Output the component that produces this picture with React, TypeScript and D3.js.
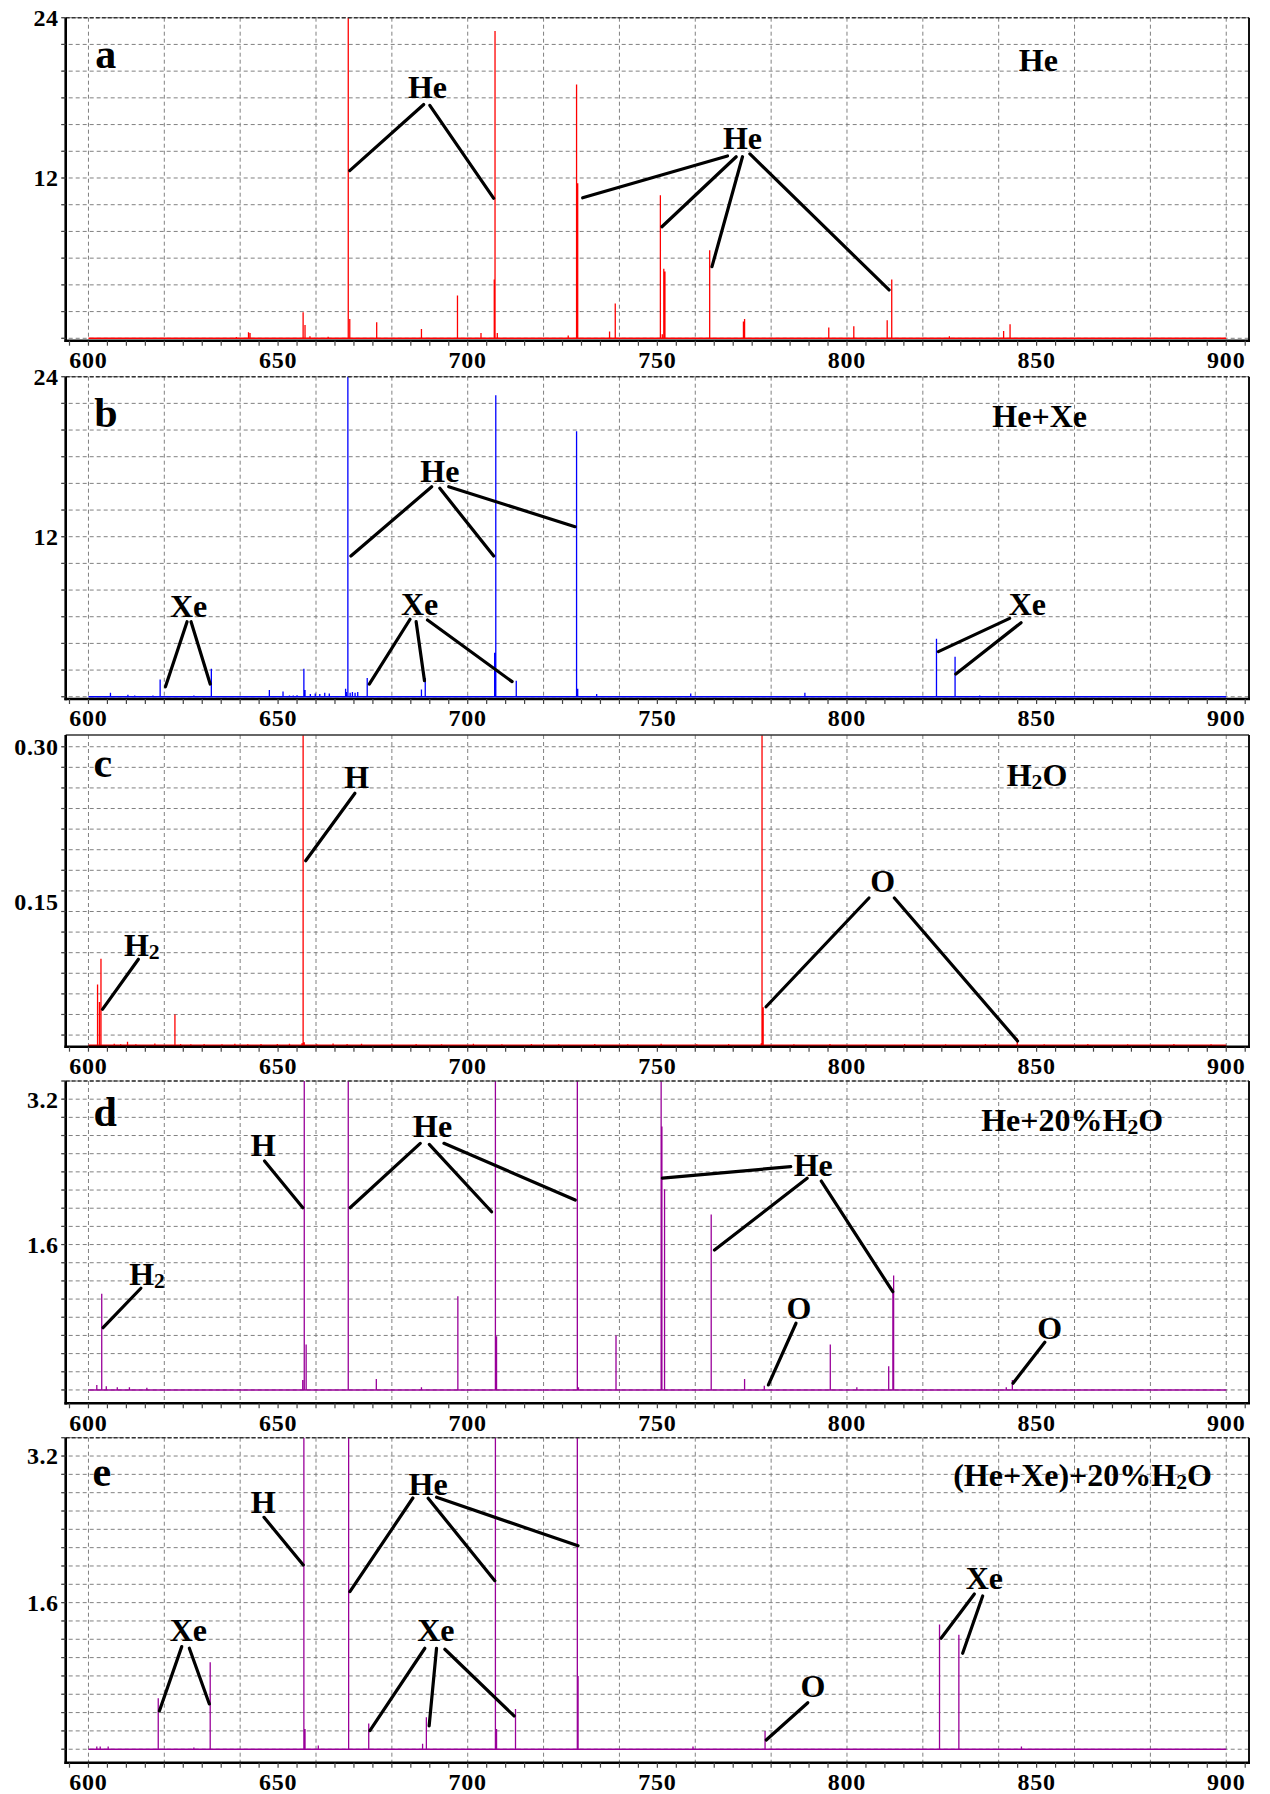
import React from 'react';
import * as d3 from 'd3';

type Peak = [number, number];
type Seg = [number, number, number, number];
interface Ann { text: string; at: [number, number]; lines: Seg[] }

// ---------- shared axis values ----------
const xDomain: [number, number] = [594, 906];
const xTickLabels = [600, 650, 700, 750, 800, 850, 900];
const xGridValues = d3.range(600, 901, 20);
const xMinorTicks = d3.range(595, 906, 5);

// ---------- y tick labels ----------
const yTicksA = [24, 12];
const yTicksB = [24, 12];
const yTicksC = [0.3, 0.15];
const yTicksD = [3.2, 1.6];
const yTicksE = [3.2, 1.6];

// ---------- spectra: [wavelength nm, intensity] ----------
const peaksA: Peak[] = [
  [639.0, 0.1], [642.2, 0.45], [642.6, 0.4], [656.6, 1.95], [657.1, 1.0], [658.4, 0.15], [663.2, 0.12],
  [668.5, 26], [668.9, 1.45], [676.0, 1.2], [687.8, 0.7], [697.3, 3.2], [703.5, 0.4], [707.0, 4.4],
  [707.2, 23.0], [707.8, 0.4], [726.5, 0.2], [728.7, 19.0], [729.0, 11.6], [737.4, 0.5], [738.9, 2.6],
  [750.8, 10.7], [751.3, 0.3], [751.7, 5.2], [752.0, 5.0], [763.8, 6.6], [772.7, 1.25], [773.0, 1.45],
  [795.2, 0.8], [801.8, 0.9], [810.6, 1.35], [811.8, 4.4], [827.0, 0.15], [841.3, 0.55], [843.0, 1.05],
];
const peaksB: Peak[] = [
  [605.8, 0.3], [610.4, 0.15], [612.2, 0.1], [617.0, 0.1], [618.9, 1.3], [627.8, 0.1], [632.4, 2.1],
  [647.7, 0.5], [651.3, 0.4], [653.0, 0.1], [654.0, 0.1], [655.0, 0.12], [656.8, 2.1], [657.1, 0.5],
  [658.5, 0.2], [659.8, 0.25], [661.0, 0.2], [662.3, 0.3], [663.5, 0.25], [667.8, 0.6], [668.0, 0.35],
  [668.4, 26], [669.0, 0.3], [669.6, 0.35], [670.3, 0.3], [671.0, 0.35], [673.5, 1.4], [687.8, 0.55],
  [688.8, 1.4], [707.1, 3.3], [707.4, 22.6], [712.8, 1.2], [728.7, 19.9], [729.0, 0.6], [734.0, 0.2],
  [758.8, 0.25], [788.9, 0.3], [823.6, 4.35], [828.5, 3.0], [835.0, 0.1],
];
const peaksC: Peak[] = [
  [602.4, 0.069], [602.9, 0.052], [603.3, 0.094], [610.3, 0.0136], [622.8, 0.04], [656.3, 0.012],
  [656.6, 0.4], [656.9, 0.013], [777.4, 0.012], [777.6, 0.4], [777.9, 0.047], [844.9, 0.017],
];
const noiseC: Peak[] = [
  [606.8, 0.0115], [608.5, 0.011], [612.5, 0.0112], [617.5, 0.0118], [624.3, 0.0114], [627.0, 0.0112],
  [630.5, 0.0113], [635.2, 0.011], [638.6, 0.0115], [642.0, 0.0112], [645.5, 0.0114], [649.8, 0.0113],
  [653.0, 0.0116], [660.2, 0.0112], [664.5, 0.0118], [668.2, 0.0113], [672.0, 0.0115], [680.0, 0.0112],
  [686.4, 0.0114], [693.1, 0.0111], [701.5, 0.0115], [709.0, 0.0112], [716.8, 0.0113], [724.0, 0.0111],
  [733.5, 0.0114], [742.2, 0.0112], [751.0, 0.0115], [760.4, 0.0111], [768.8, 0.0113], [786.0, 0.0112],
  [795.5, 0.0114], [805.0, 0.0111], [815.2, 0.0113], [826.0, 0.0112], [836.5, 0.0114], [852.0, 0.0111],
  [863.5, 0.0113], [874.0, 0.0112], [886.2, 0.0113], [896.0, 0.0111],
];
const peaksD: Peak[] = [
  [602.2, 0.055], [603.5, 1.06], [604.7, 0.04], [607.6, 0.03], [610.8, 0.03], [615.4, 0.025],
  [656.5, 0.11], [656.9, 4.0], [657.4, 0.5], [668.5, 4.0], [675.9, 0.12], [687.8, 0.03], [697.4, 1.03],
  [707.3, 4.0], [707.6, 0.59], [728.9, 4.0], [729.2, 0.03], [739.1, 0.6], [751.0, 4.0], [751.2, 2.9],
  [751.9, 2.21], [764.2, 1.93], [773.0, 0.12], [778.2, 0.045], [795.6, 0.5], [802.6, 0.03], [811.0, 0.26],
  [812.1, 1.07], [812.3, 1.26], [842.0, 0.03], [843.6, 0.11],
];
const peaksE: Peak[] = [
  [602.2, 0.03], [603.1, 0.03], [605.2, 0.03], [618.4, 0.556], [627.8, 0.02], [632.1, 0.95],
  [656.8, 4.0], [657.1, 0.22], [660.6, 0.04], [668.6, 4.0], [673.9, 0.28], [688.1, 0.06], [689.1, 0.35],
  [707.3, 4.0], [707.6, 0.22], [712.6, 0.44], [728.9, 4.0], [729.1, 0.8], [759.4, 0.03], [778.4, 0.2],
  [824.4, 1.36], [829.5, 1.25], [846.0, 0.03],
];

// ---------- annotations (data coordinates) ----------
const annA: Ann[] = [
  { text: 'He', at: [689.4, 18.8], lines: [[688.4, 17.5, 668.9, 12.55], [690.0, 17.44, 706.85, 10.48]] },
  { text: 'He', at: [772.45, 14.97], lines: [[768.5, 13.65, 730.3, 10.52], [770.8, 13.59, 751.2, 8.35], [772.45, 13.59, 764.4, 5.36], [774.4, 13.8, 811.1, 3.62]] },
];
const annB: Ann[] = [
  { text: 'He', at: [692.65, 16.88], lines: [[690.5, 15.75, 669.2, 10.55], [692.65, 15.63, 706.85, 10.55], [695.0, 15.75, 728.3, 12.75]] },
  { text: 'Xe', at: [626.4, 6.8], lines: [[626.0, 5.63, 620.3, 0.75], [627.05, 5.63, 632.1, 0.95]] },
  { text: 'Xe', at: [687.3, 6.93], lines: [[684.8, 5.81, 674.05, 0.95], [686.4, 5.63, 688.6, 1.2], [689.4, 5.75, 711.7, 1.13]] },
  { text: 'Xe', at: [847.55, 6.93], lines: [[842.9, 5.88, 824.1, 3.38], [845.9, 5.55, 828.7, 1.7]] },
];
const annC: Ann[] = [
  { text: 'H', at: [670.7, 0.2703], lines: [[670.26, 0.2548, 657.27, 0.1893]] },
  { text: 'H_2', at: [614.07, 0.1075], lines: [[613.17, 0.0936, 603.69, 0.045]] },
  { text: 'O', at: [809.4, 0.1696], lines: [[805.8, 0.1531, 778.66, 0.0475], [812.5, 0.1531, 844.97, 0.0143]] },
];
const annD: Ann[] = [
  { text: 'H', at: [646.1, 2.695], lines: [[646.42, 2.519, 656.53, 2.005]] },
  { text: 'He', at: [690.73, 2.897], lines: [[687.49, 2.714, 668.99, 2.005], [689.86, 2.703, 706.3, 1.961], [693.73, 2.714, 728.35, 2.09]] },
  { text: 'H_2', at: [615.44, 1.273], lines: [[613.83, 1.119, 603.85, 0.685]] },
  { text: 'He', at: [791.1, 2.475], lines: [[785.17, 2.457, 751.32, 2.332], [789.49, 2.329, 765.07, 1.54], [793.23, 2.299, 812.07, 1.081]] },
  { text: 'O', at: [787.33, 0.899], lines: [[786.56, 0.734, 779.27, 0.055]] },
  { text: 'O', at: [853.45, 0.679], lines: [[852.16, 0.525, 843.78, 0.074]] },
];
const annE: Ann[] = [
  { text: 'H', at: [646.1, 2.691], lines: [[646.29, 2.531, 656.64, 2.011]] },
  { text: 'He', at: [689.57, 2.891], lines: [[685.54, 2.742, 668.94, 1.72], [689.57, 2.739, 707.14, 1.84], [691.78, 2.75, 729.08, 2.22]] },
  { text: 'Xe', at: [626.34, 1.294], lines: [[624.6, 1.12, 618.7, 0.418], [626.6, 1.102, 631.88, 0.494]] },
  { text: 'Xe', at: [691.6, 1.294], lines: [[688.7, 1.102, 674.21, 0.203], [691.78, 1.102, 689.83, 0.254], [693.97, 1.091, 712.22, 0.363]] },
  { text: 'O', at: [791.0, 0.683], lines: [[789.67, 0.508, 778.71, 0.101]] },
  { text: 'Xe', at: [836.22, 1.866], lines: [[833.59, 1.694, 824.81, 1.211], [835.78, 1.673, 830.5, 1.047]] },
];

const titles = ['He', 'He+Xe', 'H_2O', 'He+20%H_2O', '(He+Xe)+20%H_2O'];
const titleAt: [number, number][] = [[850.45, 20.83], [850.8, 21.0], [850.1, 0.2718], [859.38, 2.97], [862.12, 2.993]];
const letters = ['a', 'b', 'c', 'd', 'e'];
const letterAt: [number, number][] = [[601.76, 20.26], [601.5, 20.26], [601.3, 0.2703], [601.3, 2.908], [601.05, 2.873]];

// ---------- layout / style ----------
const LEFT = 65.7;
const RIGHT = 1249;
const FONT = "'Liberation Serif', 'Times New Roman', serif";
const RED = '#ff0000';
const BLUE = '#0000ff';
const PURPLE = '#990099';

interface PanelCfg {
  top: number; bottom: number; yMin: number; yMax: number;
  gridStart: number; gridStep: number; yTicks: number[]; fmt: (v: number) => string;
  color: string; peaks: Peak[]; noise: Peak[]; base: number; baseWidth: number; anns: Ann[]; topDashed: boolean;
}

const panels: PanelCfg[] = [
  { top: 17.7, bottom: 340.7, yMin: -0.18, yMax: 24, gridStart: 0, gridStep: 2, yTicks: yTicksA, fmt: d3.format('d'), color: RED, peaks: peaksA, noise: [], base: 0, baseWidth: 1.5, anns: annA, topDashed: true },
  { top: 376.7, bottom: 699, yMin: -0.17, yMax: 24, gridStart: 0, gridStep: 2, yTicks: yTicksB, fmt: d3.format('d'), color: BLUE, peaks: peaksB, noise: [], base: 0, baseWidth: 1.5, anns: annB, topDashed: true },
  { top: 735, bottom: 1046.7, yMin: 0.0087, yMax: 0.3114, gridStart: 0.02, gridStep: 0.02, yTicks: yTicksC, fmt: d3.format('.2f'), color: RED, peaks: peaksC, noise: noiseC, base: 0.0097, baseWidth: 2.4, anns: annC, topDashed: false },
  { top: 1081, bottom: 1403.3, yMin: -0.147, yMax: 3.4, gridStart: 0, gridStep: 0.2, yTicks: yTicksD, fmt: d3.format('.1f'), color: PURPLE, peaks: peaksD, noise: [], base: 0, baseWidth: 1.5, anns: annD, topDashed: true },
  { top: 1437.7, bottom: 1762.7, yMin: -0.147, yMax: 3.4, gridStart: 0, gridStep: 0.2, yTicks: yTicksE, fmt: d3.format('.1f'), color: PURPLE, peaks: peaksE, noise: [], base: 0, baseWidth: 1.5, anns: annE, topDashed: true },
];

const x = d3.scaleLinear().domain(xDomain).range([LEFT, RIGHT]);

function Rich({ text, size }: { text: string; size: number }) {
  const parts: React.ReactNode[] = [];
  let i = 0;
  let k = 0;
  let buf = '';
  let shifted = false;
  while (i < text.length) {
    if (text[i] === '_' && i + 1 < text.length) {
      if (buf) { parts.push(<tspan key={k++} dy={shifted ? -3 : undefined}>{buf}</tspan>); shifted = false; buf = ''; }
      parts.push(<tspan key={k++} fontSize={size * 0.68} dy={3}>{text[i + 1]}</tspan>);
      shifted = true;
      i += 2;
    } else { buf += text[i]; i++; }
  }
  if (buf) parts.push(<tspan key={k++} dy={shifted ? -3 : undefined}>{buf}</tspan>);
  return <>{parts}</>;
}

function Panel({ p, idx }: { p: PanelCfg; idx: number }) {
  const y = d3.scaleLinear().domain([p.yMin, p.yMax]).range([p.bottom, p.top]);
  const gridY: number[] = [];
  for (let v = p.gridStart; v <= p.yMax + 1e-9; v += p.gridStep) gridY.push(+v.toFixed(4));
  const clipId = `clip-${idx}`;
  const basePath = d3.path();
  basePath.moveTo(x(600), y(p.base));
  basePath.lineTo(x(900), y(p.base));
  const path = d3.path();
  [...p.noise, ...p.peaks].forEach(([l, v]) => {
    path.moveTo(x(l), y(p.base));
    path.lineTo(x(l), y(v));
  });
  const annSize = 32;
  return (
    <g>
      <clipPath id={clipId}>
        <rect x={LEFT} y={p.top} width={RIGHT - LEFT} height={p.bottom - p.top} />
      </clipPath>
      {/* grid */}
      {xGridValues.map((v) => (
        <line key={'gx' + v} x1={x(v)} x2={x(v)} y1={p.top} y2={p.bottom} stroke="#808080" strokeWidth={1} strokeDasharray="4 3" />
      ))}
      {gridY.map((v) => (
        <line key={'gy' + v} x1={LEFT - 4} x2={RIGHT} y1={y(v)} y2={y(v)} stroke="#808080" strokeWidth={1} strokeDasharray="4 3" />
      ))}
      {/* spectrum */}
      <g clipPath={`url(#${clipId})`}>
        <path d={basePath.toString()} stroke={p.color} strokeWidth={p.baseWidth} fill="none" />
        <path d={path.toString()} stroke={p.color} strokeWidth={1.3} fill="none" />
      </g>
      {/* frame */}
      <line x1={LEFT} x2={RIGHT} y1={p.top} y2={p.top} stroke="#333" strokeWidth={p.topDashed ? 1.6 : 1.4} strokeDasharray={p.topDashed ? '4 2' : undefined} />
      <line x1={RIGHT} x2={RIGHT} y1={p.top} y2={p.bottom} stroke="#111" strokeWidth={2} />
      <line x1={LEFT} x2={LEFT} y1={p.top} y2={p.bottom + 1.2} stroke="#000" strokeWidth={2.6} />
      <line x1={LEFT - 1.3} x2={RIGHT + 1} y1={p.bottom} y2={p.bottom} stroke="#000" strokeWidth={2.6} />
      {/* y ticks */}
      {gridY.map((v) => (
        <line key={'ty' + v} x1={LEFT - 4.5} x2={LEFT} y1={y(v)} y2={y(v)} stroke="#444" strokeWidth={1.2} />
      ))}
      {/* x minor ticks */}
      {xMinorTicks.map((v) => (
        <line key={'tx' + v} x1={x(v)} x2={x(v)} y1={p.bottom} y2={p.bottom + 5} stroke="#444" strokeWidth={1.2} />
      ))}
      {/* labels */}
      {xTickLabels.map((v) => (
        <text key={'lx' + v} x={x(v)} y={p.bottom + 19} dy="0.35em" textAnchor="middle" fontFamily={FONT} fontWeight="bold" fontSize={24} letterSpacing={0.8}>{v}</text>
      ))}
      {p.yTicks.map((v) => (
        <text key={'ly' + v} x={LEFT - 7} y={y(v)} dy="0.35em" textAnchor="end" fontFamily={FONT} fontWeight="bold" fontSize={24} letterSpacing={0.6}>{p.fmt(v)}</text>
      ))}
      <text x={x(letterAt[idx][0])} y={y(letterAt[idx][1])} fontFamily={FONT} fontWeight="bold" fontSize={42}>{letters[idx]}</text>
      <text x={x(titleAt[idx][0])} y={y(titleAt[idx][1])} dy="0.33em" textAnchor="middle" fontFamily={FONT} fontWeight="bold" fontSize={annSize}>
        <Rich text={titles[idx]} size={annSize} />
      </text>
      {/* annotations */}
      {p.anns.map((a, ai) => (
        <g key={'a' + ai}>
          {a.lines.map((s, si) => (
            <line key={si} x1={x(s[0])} y1={y(s[1])} x2={x(s[2])} y2={y(s[3])} stroke="#000" strokeWidth={3.2} strokeLinecap="round" />
          ))}
          <text x={x(a.at[0])} y={y(a.at[1])} dy="0.33em" textAnchor="middle" fontFamily={FONT} fontWeight="bold" fontSize={annSize}>
            <Rich text={a.text} size={annSize} />
          </text>
        </g>
      ))}
    </g>
  );
}

export default function App() {
  return (
    <svg width={1270} height={1794} viewBox="0 0 1270 1794" style={{ position: 'absolute', left: 0, top: 0, background: '#fff' }}>
      <rect x={0} y={0} width={1270} height={1794} fill="#fff" />
      {panels.map((p, i) => <Panel key={i} p={p} idx={i} />)}
    </svg>
  );
}
